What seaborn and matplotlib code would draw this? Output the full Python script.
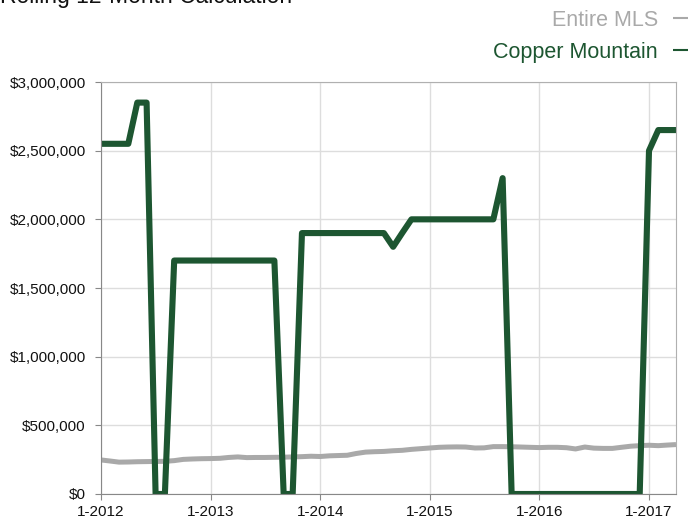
"""
Rolling 12-month median price: Copper Mountain vs Entire MLS.
"""
import numpy as np
import pandas as pd
import matplotlib
matplotlib.use('Agg')
import matplotlib.pyplot as plt
import matplotlib.ticker as mticker
import matplotlib.dates as mdates
import seaborn as sns

months = pd.date_range("2012-01-01", "2017-04-01", freq="MS")

copper_mountain = [
    2550000, 2550000, 2550000, 2550000, 2850000, 2850000, 0, 0,
    1700000, 1700000, 1700000, 1700000, 1700000, 1700000, 1700000, 1700000,
    1700000, 1700000, 1700000, 1700000, 0, 0, 1900000, 1900000,
    1900000, 1900000, 1900000, 1900000, 1900000, 1900000, 1900000, 1900000,
    1800000, 1900000, 2000000, 2000000, 2000000, 2000000, 2000000, 2000000,
    2000000, 2000000, 2000000, 2000000, 2300000, 0, 0, 0,
    0, 0, 0, 0, 0, 0, 0, 0,
    0, 0, 0, 0, 2500000, 2650000, 2650000, 2650000,
]

entire_mls = [
    248000, 240000, 232000, 233000, 235000, 236000, 237000, 238000,
    243000, 252000, 255000, 257000, 258000, 260000, 266000, 270000,
    265000, 266000, 266000, 267000, 268000, 270000, 272000, 275000,
    273000, 278000, 280000, 282000, 295000, 305000, 308000, 310000,
    315000, 318000, 325000, 330000, 335000, 340000, 342000, 343000,
    342000, 335000, 336000, 345000, 345000, 344000, 342000, 340000,
    338000, 340000, 340000, 337000, 328000, 342000, 334000, 332000,
    332000, 340000, 348000, 352000, 355000, 352000, 356000, 360000,
]

title = "Rolling 12-Month Calculation"
series_names = ["Entire MLS", "Copper Mountain"]
colors = {"Entire MLS": "#a9a9a9", "Copper Mountain": "#1d5631"}

df = pd.DataFrame({"month": months, "Entire MLS": entire_mls,
                   "Copper Mountain": copper_mountain})
long_df = df.melt(id_vars="month", var_name="series", value_name="price")

sns.set_style("white")
plt.rcParams['font.family'] = ['Liberation Sans', 'DejaVu Sans']

fig = plt.figure(figsize=(6.89, 5.23), dpi=100)
ax = fig.add_axes([101 / 689, 1 - 494 / 523, 575 / 689, 412 / 523])

for name, lw in [("Entire MLS", 3.6), ("Copper Mountain", 4.4)]:
    sns.lineplot(data=long_df[long_df["series"] == name], x="month", y="price",
                 color=colors[name], linewidth=lw, ax=ax, label=name,
                 solid_joinstyle='round', solid_capstyle='butt')

ax.set_xlim(months[0], months[-1])
ax.set_ylim(0, 3000000)
ax.yaxis.set_major_locator(mticker.MultipleLocator(500000))
ax.yaxis.set_major_formatter(mticker.FuncFormatter(lambda v, p: f"${v:,.0f}"))
ax.xaxis.set_major_locator(mdates.YearLocator())
ax.xaxis.set_major_formatter(mticker.FuncFormatter(
    lambda v, p: f"1-{mdates.num2date(v).year}"))

ax.grid(True, color="#dddddd", linewidth=1)
ax.set_axisbelow(True)
for side in ["top", "right"]:
    ax.spines[side].set_color("#b0b0b0")
for side in ["left", "bottom"]:
    ax.spines[side].set_color("#888888")
ax.tick_params(axis="both", length=4, color="#888888", labelsize=11,
               labelcolor="#111111", left=True, bottom=True)
ax.tick_params(axis="y", pad=7)
ax.tick_params(axis="x", pad=4)
ax.set_xlabel("")
ax.set_ylabel("")

handles, labels = ax.get_legend_handles_labels()
order = [labels.index(n) for n in series_names]
leg = ax.legend([handles[i] for i in order], [labels[i] for i in order],
                loc="upper right", bbox_to_anchor=(688 / 689, 1 - 10 / 523),
                bbox_transform=fig.transFigure, frameon=False,
                borderaxespad=0, borderpad=0,
                markerfirst=False, handlelength=0.7, handletextpad=0.7,
                labelspacing=0.5, fontsize=15.5, labelcolor="linecolor")
for line in leg.get_lines():
    line.set_linewidth(1.5)

fig.text(0.0, 1 - 3 / 523, title, fontsize=16.5, ha="left", va="baseline",
         color="#111111")

fig.savefig("out.png", dpi=100)
plt.close(fig)
